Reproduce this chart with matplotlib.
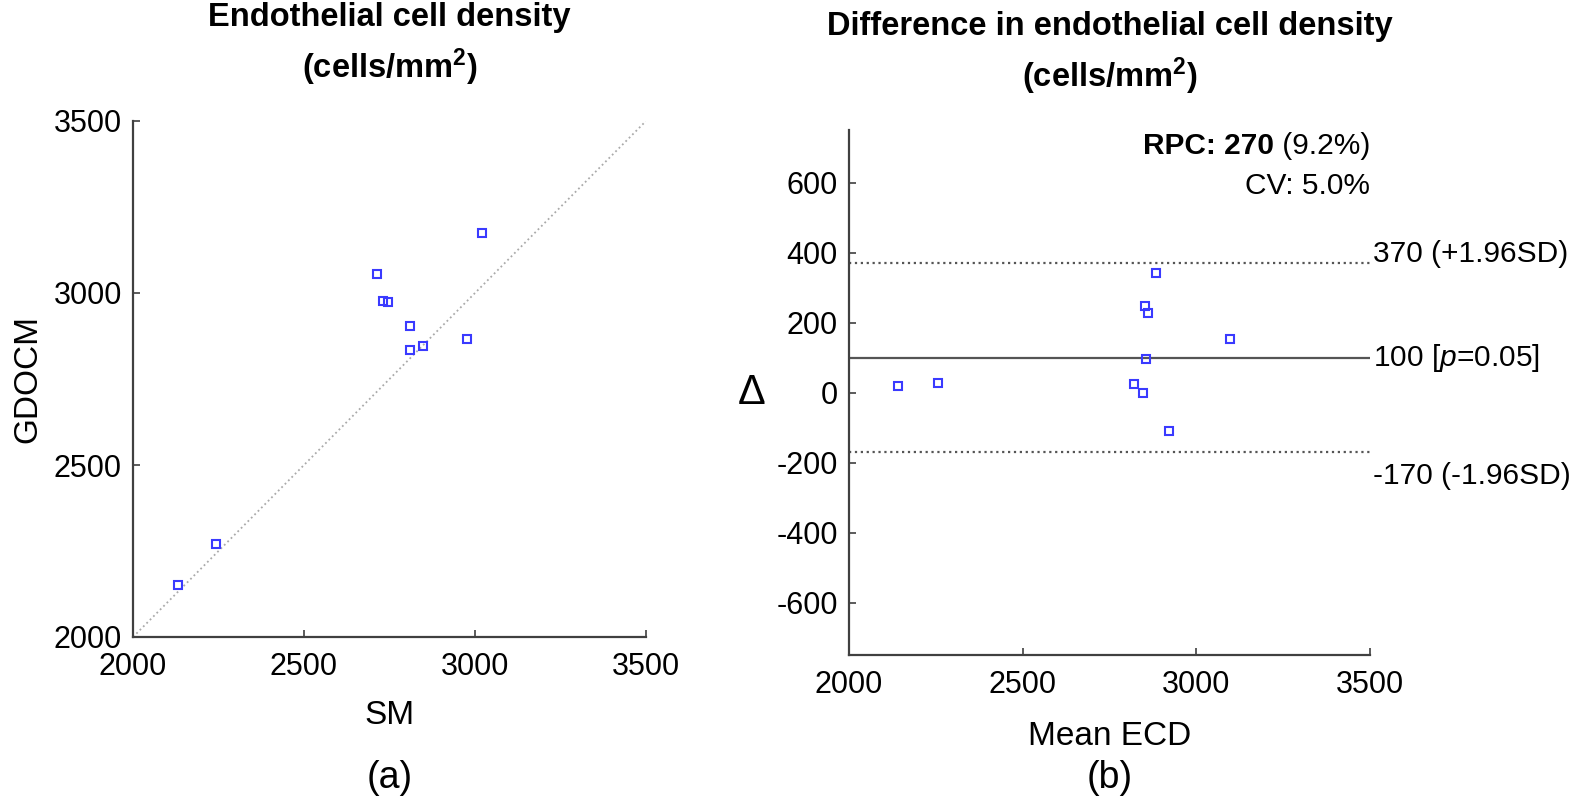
import matplotlib
matplotlib.use('Agg')
import matplotlib.pyplot as plt
import numpy as np

plt.rcParams['font.family'] = ['Liberation Sans', 'DejaVu Sans']
plt.rcParams['mathtext.fontset'] = 'custom'
plt.rcParams['mathtext.rm'] = 'Liberation Sans'
plt.rcParams['mathtext.it'] = 'Liberation Sans:italic'
plt.rcParams['mathtext.bf'] = 'Liberation Sans:bold'
plt.rcParams['axes.unicode_minus'] = False

# ECD readings (cells/mm^2) per eye
sm = np.array([2132, 2243, 2713, 2730, 2747, 2809, 2809, 2848, 2976, 3021])
gdocm = np.array([2152, 2270, 3055, 2977, 2973, 2904, 2834, 2847, 2867, 3173])

bias = 100
loa_hi = 370
loa_lo = -170
rpc = 270

mean_ecd = (sm + gdocm) / 2
delta = gdocm - sm

fs_tick = 22
fs_lab = 24
fs_title = 23.5
fs_note = 21.5
blue = '#3a3aff'
axc = '#404040'

fig = plt.figure(figsize=(15.75, 8), dpi=100)
ax1 = fig.add_axes([133 / 1575, 1 - 637 / 800, 513 / 1575, 516 / 800])
ax2 = fig.add_axes([849 / 1575, 1 - 655 / 800, 521 / 1575, 525 / 800])

for ax in (ax1, ax2):
    for s in ('top', 'right'):
        ax.spines[s].set_visible(False)
    for s in ('left', 'bottom'):
        ax.spines[s].set_color(axc)
        ax.spines[s].set_linewidth(1.6)
    ax.tick_params(direction='in', length=5, width=1.2, color=axc, labelsize=fs_tick)
    ax.tick_params(axis='x', pad=11)
    ax.tick_params(axis='y', pad=8)
    ax.set_xlim(2000, 3500)
    ax.set_xticks([2000, 2500, 3000, 3500])

# (a) agreement plot
ax1.plot([2000, 3500], [2000, 3500], ':', color='#aaaaaa', lw=1.3)
ax1.plot(sm, gdocm, 's', mfc='none', mec=blue, ms=6, mew=1.5, clip_on=False)
ax1.set_ylim(2000, 3500)
ax1.set_yticks([2000, 2500, 3000, 3500])
ax1.set_xlabel('SM', fontsize=fs_lab, labelpad=13)
ax1.set_ylabel('GDOCM', fontsize=fs_lab, va='center')
ax1.yaxis.set_label_coords(-0.205, 0.5)
cx1 = 0.5 * (133 + 646) / 1575
fig.text(cx1, 1 - 26 / 800, 'Endothelial cell density',
         ha='center', va='baseline', fontsize=fs_title, fontweight='bold')
fig.text(cx1, 1 - 78 / 800, r'(cells/mm$^\mathbf{2}$)',
         ha='center', va='baseline', fontsize=fs_title, fontweight='bold')
fig.text(cx1, 1 - 778 / 800, '(a)', ha='center', va='center', fontsize=27)

# (b) Bland-Altman plot
ax2.hlines([loa_hi, loa_lo], 2000, 3500, colors='#555555', linestyles=':', lw=1.6)
ax2.hlines(bias, 2000, 3500, colors='#555555', lw=1.6)
ax2.plot(mean_ecd, delta, 's', mfc='none', mec=blue, ms=6, mew=1.5)
ax2.set_ylim(-750, 750)
ax2.set_yticks([-600, -400, -200, 0, 200, 400, 600])
ax2.set_xlabel('Mean ECD', fontsize=fs_lab, labelpad=15)
ax2.set_ylabel('Δ', fontsize=30, rotation=0, va='center', ha='center')
ax2.yaxis.set_label_coords(-0.186, 0.5)

ax2.annotate('%d (+1.96SD)' % loa_hi, (3500, loa_hi), xytext=(2, 1), textcoords='offset points',
             ha='left', va='baseline', fontsize=fs_note, annotation_clip=False)
ax2.annotate('%d [$p$=0.05]' % bias, (3500, bias), xytext=(2, 0), textcoords='offset points',
             ha='left', va='center', fontsize=fs_note, annotation_clip=False)
ax2.annotate('%d (-1.96SD)' % loa_lo, (3500, loa_lo), xytext=(2, -7), textcoords='offset points',
             ha='left', va='top', fontsize=fs_note, annotation_clip=False)
t_pct = ax2.text(3500, 703, ' (9.2%)', ha='right', va='center', fontsize=fs_note)
ax2.annotate('RPC: %d' % rpc, xy=(0, 0.5), xycoords=t_pct, ha='right', va='center',
             fontsize=fs_note, fontweight='bold')
ax2.text(3500, 589, 'CV: 5.0%', ha='right', va='center', fontsize=fs_note)

cx2 = 0.5 * (849 + 1370) / 1575
fig.text(cx2, 1 - 35 / 800, 'Difference in endothelial cell density',
         ha='center', va='baseline', fontsize=fs_title, fontweight='bold')
fig.text(cx2, 1 - 87 / 800, r'(cells/mm$^\mathbf{2}$)',
         ha='center', va='baseline', fontsize=fs_title, fontweight='bold')
fig.text(cx2, 1 - 778 / 800, '(b)', ha='center', va='center', fontsize=27)

fig.savefig('out.png', dpi=100, facecolor='white')
